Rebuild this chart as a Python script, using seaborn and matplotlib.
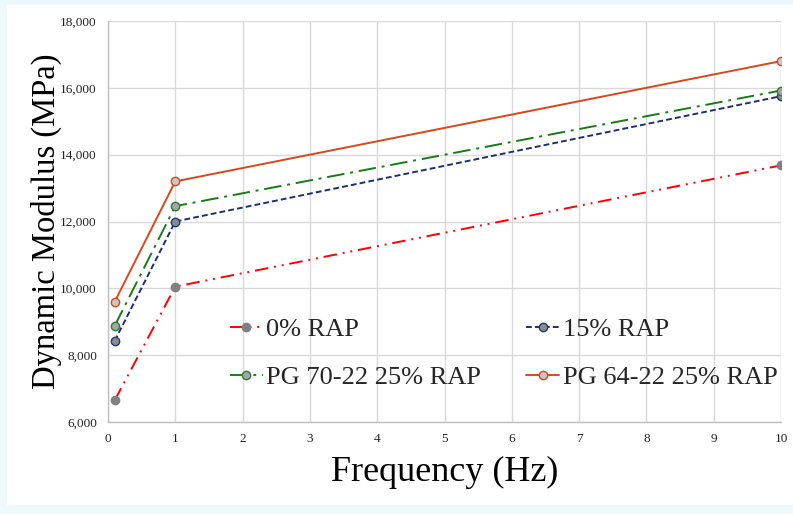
import matplotlib
matplotlib.use('Agg')
import matplotlib.pyplot as plt
import seaborn as sns
import pandas as pd
from matplotlib.patches import Rectangle
from matplotlib.ticker import FuncFormatter

# values
freq = [0.1, 1, 10]
rap0 = [6650, 10050, 13680]
rap15 = [8430, 12000, 15750]
pg70 = [8880, 12460, 15920]
pg64 = [9600, 13200, 16800]

labels = ['0% RAP', '15% RAP', 'PG 70-22 25% RAP', 'PG 64-22 25% RAP']
series = [rap0, rap15, pg70, pg64]

sns.set_theme(style='whitegrid')
plt.rcParams['font.family'] = ['Liberation Serif', 'DejaVu Serif']

fig = plt.figure(figsize=(7.93, 5.14), dpi=100)
fig.patch.set_facecolor('#eef9fd')
fig.patches.append(Rectangle((7/793, 9/514), 786/793, 500/514, transform=fig.transFigure,
                             facecolor='white', edgecolor='none', zorder=-5))
ax = fig.add_axes([108/793, 1-422/514, 673/793, 401/514])

styles = [
    dict(color='#ff0000', ls=(0, (7, 3, 1, 3, 1, 3)), mfc='#808080', mec='#808080'),
    dict(color='#1f2f6e', ls=(0, (3, 1.6)), mfc='#8c8c8c', mec='#1f3a7a'),
    dict(color='#1a7a1a', ls=(0, (9, 3, 1.5, 3)), mfc='#a6a6a6', mec='#2e7d32'),
    dict(color='#d9471b', ls='-', mfc='#c8c8c8', mec='#d9471b'),
]

for lab, vals, st in zip(labels, series, styles):
    df = pd.DataFrame({'Frequency': freq, 'Modulus': vals})
    sns.lineplot(data=df, x='Frequency', y='Modulus', ax=ax, label=lab,
                 color=st['color'], linestyle=st['ls'], linewidth=1.4,
                 marker='o', markersize=6, markerfacecolor=st['mfc'],
                 markeredgecolor=st['mec'], markeredgewidth=1.0)

ax.set_xlim(0, 10)
ax.set_ylim(6000, 18000)
ax.set_xticks(range(0, 11))
ax.set_yticks(range(6000, 18001, 2000))
ax.yaxis.set_major_formatter(FuncFormatter(lambda v, p: f'{int(v):,}'))
ax.tick_params(labelsize=9.5, colors='#222222', length=0)
ax.tick_params(axis='y', pad=8)
ax.tick_params(axis='x', pad=8)
ax.grid(True, color='#d9d9d9', linewidth=1)
for s in ['top', 'right']:
    ax.spines[s].set_visible(False)
for s in ['left', 'bottom']:
    ax.spines[s].set_color('#bfbfbf')
    ax.spines[s].set_linewidth(1)
ax.set_facecolor('white')

ax.set_xlabel('Frequency (Hz)', fontsize=26, labelpad=8, color='black')
ax.set_ylabel('Dynamic Modulus (MPa)', fontsize=23.5, labelpad=-1, color='black')

# row-major legend order: 0%, 15% on first row
handles, labs = ax.get_legend_handles_labels()
order = [0, 2, 1, 3]
ax.legend([handles[i] for i in order], [labs[i] for i in order],
          ncol=2, frameon=False, loc='center', bbox_to_anchor=(0.588, 0.171),
          fontsize=19, handlelength=1.25, handletextpad=0.15, columnspacing=1.7,
          labelspacing=0.95)

fig.savefig('out.png', dpi=100, facecolor=fig.get_facecolor())
